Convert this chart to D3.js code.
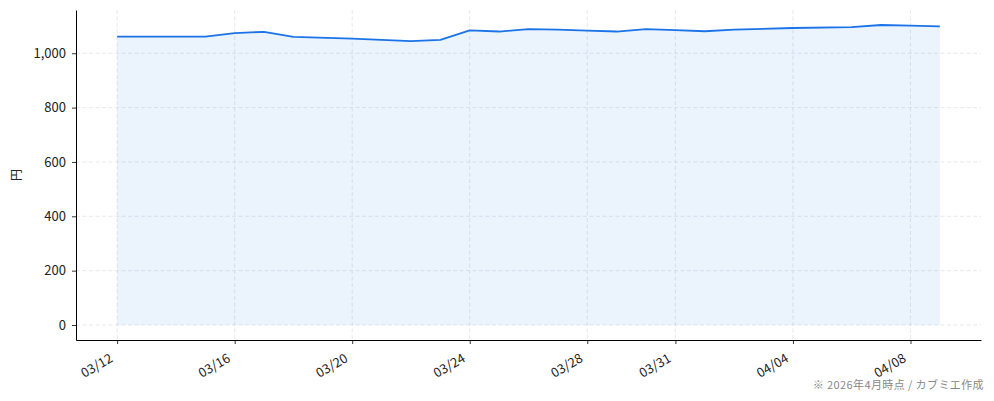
<!DOCTYPE html>
<html>
<head>
<meta charset="utf-8">
<script src="https://cdn.jsdelivr.net/npm/d3@7"></script>
<style>
  html, body { margin: 0; padding: 0; background: #fff; }
  svg { display: block; }
  text { font-family: "Noto Sans CJK JP", "Noto Sans", sans-serif; }
</style>
</head>
<body>
<div class="chart"></div>
<script>
// price data
var dates = ["2026-03-12","2026-03-15","2026-03-16","2026-03-17","2026-03-18","2026-03-20",
             "2026-03-22","2026-03-23","2026-03-24","2026-03-25","2026-03-26","2026-03-27",
             "2026-03-28","2026-03-29","2026-03-30","2026-03-31","2026-04-01","2026-04-02",
             "2026-04-04","2026-04-06","2026-04-07","2026-04-08","2026-04-09"];
var prices = [1061, 1061, 1074, 1079, 1060, 1054,
              1045, 1049, 1084, 1080, 1089, 1087,
              1083, 1080, 1089, 1085, 1081, 1087,
              1093, 1096, 1104, 1102, 1099];
var tickDates = ["2026-03-12","2026-03-16","2026-03-20","2026-03-24","2026-03-28","2026-03-31","2026-04-04","2026-04-08"];
var yTicks = [0, 200, 400, 600, 800, 1000];
var yLabel = "円";
var footnote = "※ 2026年4月時点 / カブミエ作成";

function wrapper(){

var W = 994, H = 401;
var margin = {top: 10, right: 13, bottom: 61, left: 76};
var w = W - margin.left - margin.right;
var h = H - margin.top - margin.bottom;

var parse = d3.utcParse("%Y-%m-%d");
var data = dates.map(function(d, i){ return {date: parse(d), value: prices[i]}; });

var svg = d3.select("div.chart")
            .append("svg")
            .attr("width", W)
            .attr("height", H);

var g = svg.append("g").attr("transform", "translate(" + margin.left + "," + margin.top + ")");

//matplotlib style 5% margins
var xExt = d3.extent(data, function(d){ return d.date; });
var xPad = (xExt[1] - xExt[0]) * 0.05;
var x = d3.scaleUtc()
          .domain([new Date(+xExt[0] - xPad), new Date(+xExt[1] + xPad)])
          .range([0, w]);

var yMax = d3.max(prices), yMin = 0;
var yPad = (yMax - yMin) * 0.05;
var y = d3.scaleLinear()
          .domain([yMin - yPad, yMax + yPad])
          .range([h, 0]);

var ticks = tickDates.map(parse);

//grid
g.append("g").selectAll("line.vg")
  .data(ticks).enter().append("line")
  .attr("x1", function(d){ return x(d); }).attr("x2", function(d){ return x(d); })
  .attr("y1", 0).attr("y2", h)
  .attr("stroke", "#dfe2e8").attr("stroke-width", 0.8).attr("stroke-dasharray", "4,2.5");
g.append("g").selectAll("line.hg")
  .data(yTicks).enter().append("line")
  .attr("x1", 0).attr("x2", w)
  .attr("y1", function(d){ return y(d); }).attr("y2", function(d){ return y(d); })
  .attr("stroke", "#dfe2e8").attr("stroke-width", 0.8).attr("stroke-dasharray", "4,2.5");

//area + line
var area = d3.area()
             .x(function(d){ return x(d.date); })
             .y0(y(0))
             .y1(function(d){ return y(d.value); });
var line = d3.line()
             .x(function(d){ return x(d.date); })
             .y(function(d){ return y(d.value); });

g.append("path").datum(data)
  .attr("d", area)
  .attr("fill", "#1a73e8")
  .attr("fill-opacity", 0.085);

g.append("path").datum(data)
  .attr("d", line)
  .attr("fill", "none")
  .attr("stroke", "#1a73e8")
  .attr("stroke-width", 1.8)
  .attr("stroke-linejoin", "round");

//axes
var xAxis = g.append("g")
  .attr("transform", "translate(0," + h + ")")
  .call(d3.axisBottom(x).tickValues(ticks).tickFormat(d3.utcFormat("%m/%d")).tickSize(4).tickPadding(6).tickSizeOuter(0));
xAxis.selectAll("text")
  .attr("font-size", 13)
  .attr("fill", "#222")
  .attr("text-anchor", "end")
  .attr("x", 0)
  .attr("y", 0)
  .attr("dy", 0)
  .attr("transform", "translate(-4,21) rotate(-30)");

var yAxis = g.append("g")
  .call(d3.axisLeft(y).tickValues(yTicks).tickFormat(d3.format(",")).tickSize(4).tickPadding(6).tickSizeOuter(0));
yAxis.selectAll("text").attr("font-size", 13).attr("fill", "#222");

svg.selectAll(".domain").attr("stroke", "#000").attr("stroke-width", 1);
svg.selectAll(".tick line").attr("stroke", "#000").attr("stroke-width", 0.8);

//labels
svg.append("text")
  .attr("transform", "translate(17," + (margin.top + h / 2) + ") rotate(-90)")
  .attr("text-anchor", "middle")
  .attr("dy", "0.35em")
  .attr("font-size", 12)
  .attr("fill", "#222")
  .text(yLabel);

svg.append("text")
  .attr("x", 984)
  .attr("y", 389)
  .attr("text-anchor", "end")
  .attr("font-size", 11)
  .attr("letter-spacing", "0.4px")
  .attr("fill", "#888")
  .text(footnote);

}
window.onload = wrapper;
</script>
</body>
</html>
